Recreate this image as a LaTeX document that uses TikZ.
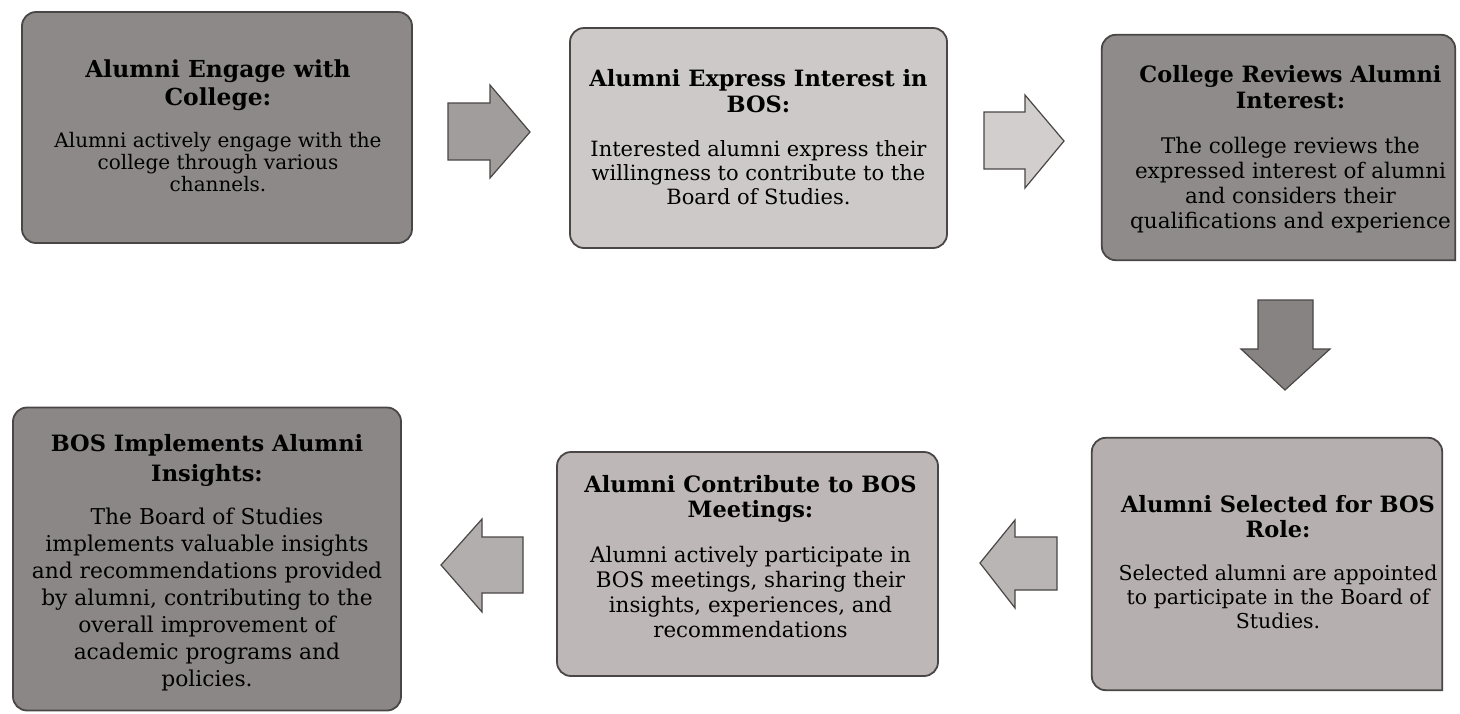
\documentclass[tikz,border=0pt]{standalone}
\usepackage{fontspec}
\setmainfont{DejaVu Serif}
\usetikzlibrary{calc}
\definecolor{edge}{HTML}{4A4646}
\definecolor{cA}{HTML}{8E8989}
\definecolor{cB}{HTML}{CDC9C9}
\definecolor{cC}{HTML}{8F8B8B}
\definecolor{cD}{HTML}{B5AFAF}
\definecolor{cE}{HTML}{BDB7B7}
\definecolor{cF}{HTML}{8C8787}
\definecolor{aA}{HTML}{A19D9D}
\definecolor{aB}{HTML}{D2CECE}
\definecolor{aC}{HTML}{878383}
\definecolor{aD}{HTML}{B9B5B5}
\definecolor{aE}{HTML}{B2AEAE}
\newcommand{\ttl}[1]{{\fontsize{22.5}{26}\selectfont\bfseries #1}}
\newcommand{\ttlbig}[1]{{\fontsize{23.4}{27}\selectfont\bfseries #1}}
\begin{document}
\begin{tikzpicture}[x=1pt,y=-1pt,
  boxline/.style={draw=edge, line width=1.8pt},
  box/.style={boxline, rounded corners=14pt, inner sep=0pt},
  shell/.style={inner sep=0pt},
  txt/.style={align=center, inner sep=0pt, text=black},
  blk/.style={draw=edge, line width=1.2pt, line join=miter}]
\useasboundingbox (0,0) rectangle (1460,713);
\fill[white] (0,0) rectangle (1460,713);

% boxes
\node[box, fill=cA, minimum width=390pt, minimum height=231pt] (b1) at (217,127.5) {};
\node[box, fill=cB, minimum width=377pt, minimum height=220pt] (b2) at (758.5,138) {};
\node[shell, minimum width=353pt, minimum height=225pt] (b3) at (1278.5,147.5) {};
\draw[boxline, fill=cC] (b3.south east) [rounded corners=14pt] -- (b3.south west) -- (b3.north west) -- (b3.north east) [sharp corners] -- cycle;
\node[shell, minimum width=350pt, minimum height=252pt] (b4) at (1267,564) {};
\draw[boxline, fill=cD] (b4.south east) [rounded corners=14pt] -- (b4.south west) -- (b4.north west) -- (b4.north east) [sharp corners] -- cycle;
\node[box, fill=cE, minimum width=381pt, minimum height=224pt] (b5) at (747.5,564) {};
\node[box, fill=cF, minimum width=388pt, minimum height=303pt] (b6) at (207,559) {};

% texts
\node[txt, font=\fontsize{20}{22}\selectfont] (t1) at ($(b1.center)+(1,-2)$)
 {\ttlbig{Alumni Engage with}\\[4pt]\ttlbig{College:}\\[20pt]Alumni actively engage with the\\college through various\\channels.};
\node[txt, font=\fontsize{21}{24}\selectfont] (t2) at ($(b2.center)+(0,-1)$)
 {\ttl{Alumni Express Interest in}\\[2pt]\ttl{BOS:}\\[20pt]Interested alumni express their\\willingness to contribute to the\\Board of Studies.};
\node[txt, font=\fontsize{21.5}{25}\selectfont] (t3) at ($(b3.center)+(12,2)$)
 {\ttl{College Reviews Alumni}\\[1pt]\ttl{Interest:}\\[20pt]The college reviews the\\expressed interest of alumni\\and considers their\\qualifications and experience};
\node[txt, font=\fontsize{20.5}{24}\selectfont] (t4) at ($(b4.center)+(11,-2)$)
 {\ttl{Alumni Selected for BOS}\\[1pt]\ttl{Role:}\\[19pt]Selected alumni are appointed\\to participate in the Board of\\Studies.};
\node[txt, font=\fontsize{21.4}{25}\selectfont] (t5) at ($(b5.center)+(3,-7)$)
 {\ttl{Alumni Contribute to BOS}\\[0pt]\ttl{Meetings:}\\[20pt]Alumni actively participate in\\BOS meetings, sharing their\\insights, experiences, and\\recommendations};
\node[txt, font=\fontsize{21.8}{27}\selectfont] (t6) at ($(b6.center)+(0,4)$)
 {\ttl{BOS Implements Alumni}\\[3pt]\ttl{Insights:}\\[16pt]The Board of Studies\\implements valuable insights\\and recommendations provided\\by alumni, contributing to the\\overall improvement of\\academic programs and\\policies.};

% block arrows
\draw[blk, fill=aA] (448,103) -- (490,103) -- (490,85) -- (530,132) -- (490,178) -- (490,160) -- (448,160) -- cycle;
\draw[blk, fill=aB] (984,112) -- (1025,112) -- (1025,95) -- (1064,141) -- (1025,188) -- (1025,169) -- (984,169) -- cycle;
\draw[blk, fill=aC] (1258,300) -- (1313,300) -- (1313,349) -- (1330,349) -- (1285,390) -- (1241,349) -- (1258,349) -- cycle;
\draw[blk, fill=aD] (1057,537) -- (1015,537) -- (1015,520) -- (980,563) -- (1015,608) -- (1015,590) -- (1057,590) -- cycle;
\draw[blk, fill=aE] (523,537) -- (482,537) -- (482,519) -- (441,565) -- (482,612) -- (482,593) -- (523,593) -- cycle;
\end{tikzpicture}
\end{document}
